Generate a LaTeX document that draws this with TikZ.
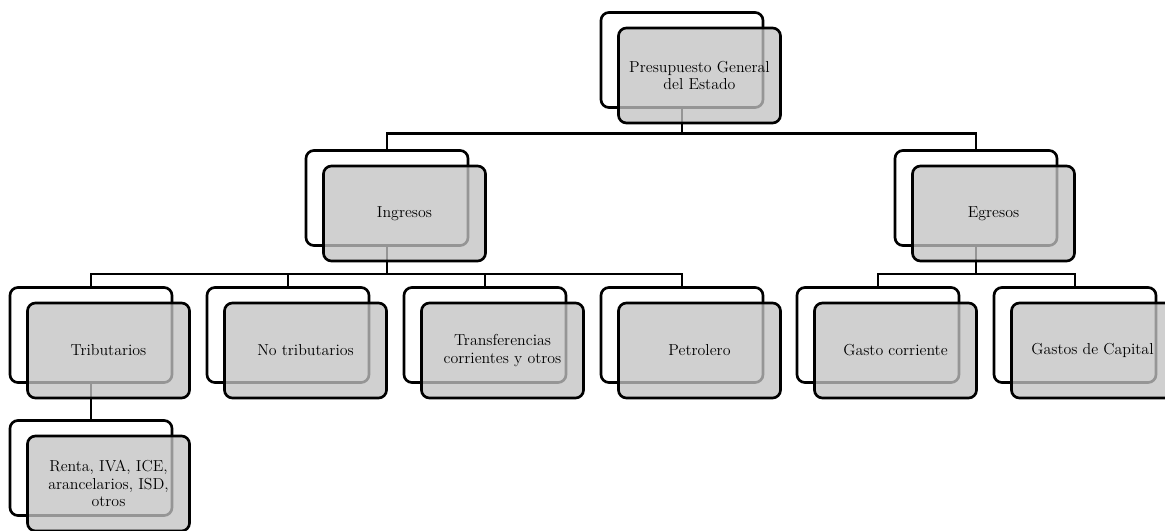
\documentclass[tikz,border=0pt]{standalone}
\usepackage{tikz}
\definecolor{boxfg}{HTML}{000000}
\definecolor{boxfill}{HTML}{C2C2C2}

\begin{document}
\begin{tikzpicture}[x=0.025cm,y=-0.025cm,font=\fontsize{11.3}{12.3}\selectfont]
  \tikzstyle{backbox}=[draw=boxfg, line width=1.9pt, rounded corners=2mm, fill=white, inner sep=0pt, outer sep=0pt, minimum width=4.05cm, minimum height=2.375cm]
  \tikzstyle{frontbox}=[backbox, fill=boxfill, fill opacity=0.77, text opacity=1, align=center]
  \tikzstyle{link}=[draw=boxfg, line width=1.8pt]

  \path[use as bounding box] (0,0) rectangle (1165,531);
  \clip (0,0) rectangle (1165,531);

  % back boxes
  \foreach \n/\x/\y in {pge/682/60, ing/387/198, egr/976/198, trib/91/335, notrib/288/335, transf/485/335, petro/682/335, gcorr/878/335, gcap/1075/335, renta/91/468} {
    \node[backbox] (\n) at (\x,\y) {};
  }

  % connectors
  \draw[link] (pge.south) -- ++(0,26) -| (ing.north);
  \draw[link] (pge.south) -- ++(0,26) -| (egr.north);
  \foreach \c in {trib,notrib,transf,petro}
    \draw[link] (ing.south) -- ++(0,28.5) -| (\c.north);
  \foreach \c in {gcorr,gcap}
    \draw[link] (egr.south) -- ++(0,28.5) -| (\c.north);
  \draw[link] (trib) -- (renta);

  % front boxes
  \foreach \n/\t in {pge/{Presupuesto General\\del Estado}, ing/Ingresos, egr/Egresos, trib/Tributarios, notrib/No tributarios, transf/{Transferencias\\corrientes y otros}, petro/Petrolero, gcorr/Gasto corriente, gcap/Gastos de Capital, renta/{Renta, IVA, ICE,\\arancelarios, ISD,\\otros}} {
    \node[frontbox] (\n f) at ([shift={(17.5,15.5)}]\n.center) {\t};
  }
\end{tikzpicture}
\end{document}
